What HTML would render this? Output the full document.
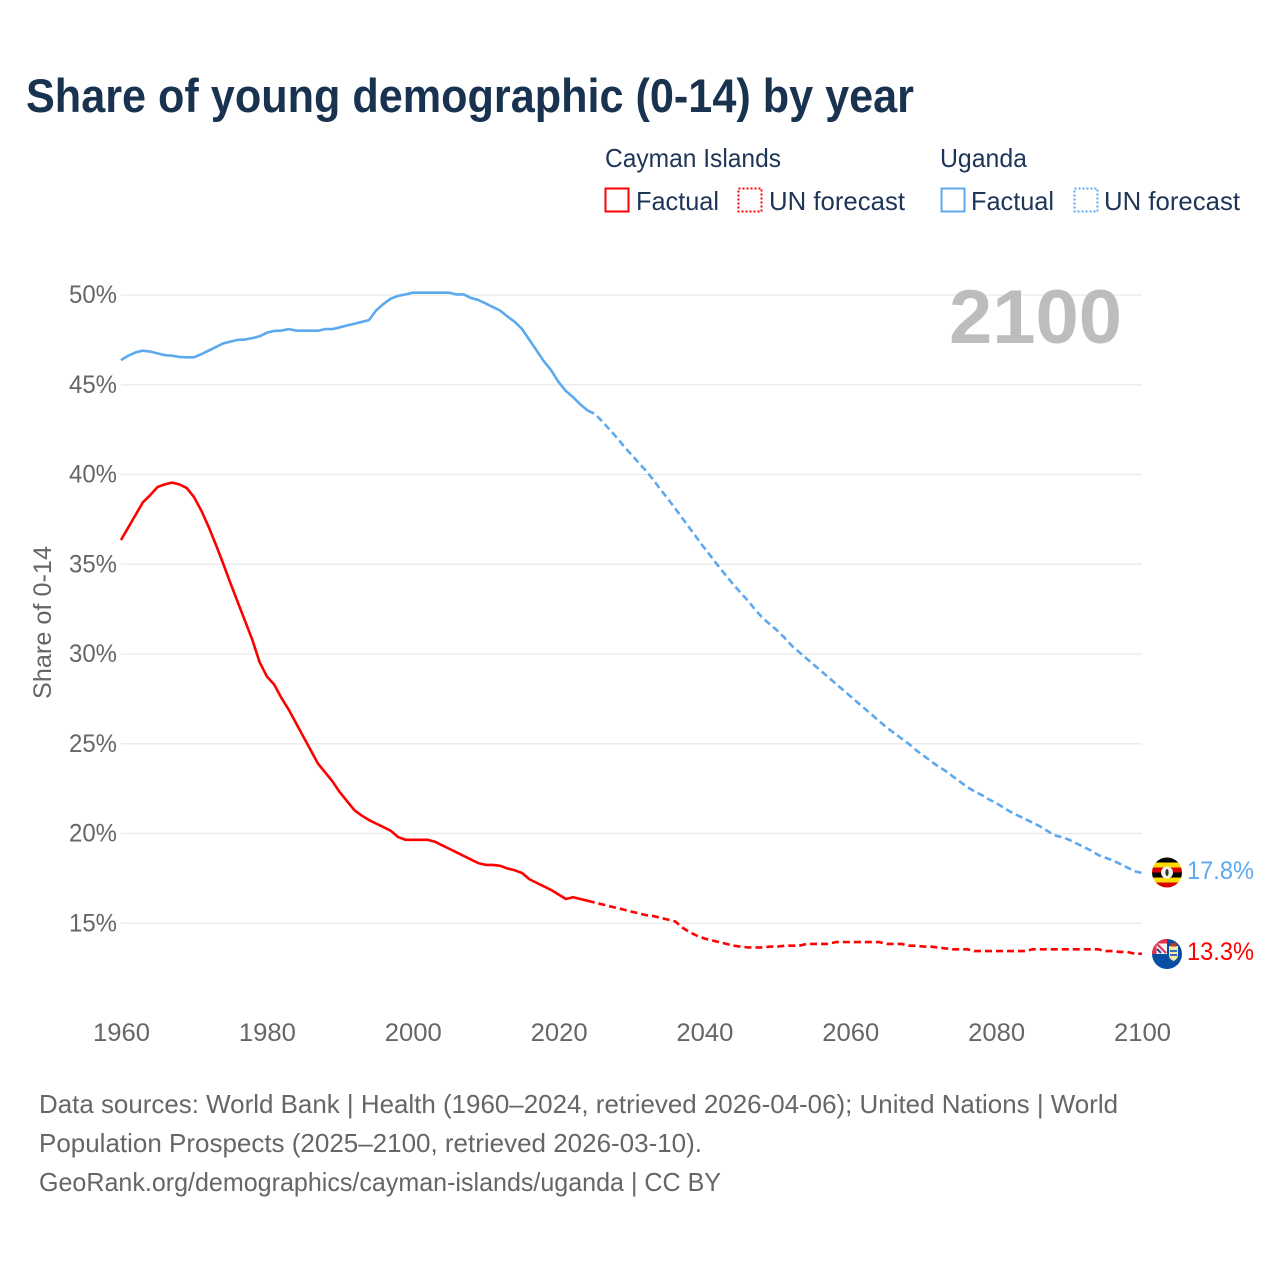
<!DOCTYPE html>
<html lang="en">
<head>
<meta charset="utf-8">
<title>Share of young demographic (0-14) by year</title>
<style>
  html, body { margin: 0; padding: 0; background: #fff; }
  svg { display: block; font-family: "Liberation Sans", sans-serif; }
</style>
</head>
<body>
<svg id="chart" width="1280" height="1280" viewBox="0 0 1280 1280" xmlns="http://www.w3.org/2000/svg">
  <rect x="0" y="0" width="1280" height="1280" fill="#ffffff"/>
  <text x="26" y="112" font-size="47" font-weight="700" fill="#18324f" textLength="888" lengthAdjust="spacingAndGlyphs">Share of young demographic (0-14) by year</text>

  <g font-size="26" fill="#1d3557">
    <text x="605" y="167" textLength="176" lengthAdjust="spacingAndGlyphs">Cayman Islands</text>
    <text x="940" y="167" textLength="87" lengthAdjust="spacingAndGlyphs">Uganda</text>
    <rect x="605.5" y="188.5" width="23" height="23" fill="none" stroke="#ff0000" stroke-width="2"/>
    <text x="636" y="210" textLength="83" lengthAdjust="spacingAndGlyphs">Factual</text>
    <rect x="738.5" y="188.5" width="23" height="23" fill="none" stroke="#ff0000" stroke-width="2" stroke-dasharray="2,2"/>
    <text x="769" y="210" textLength="136" lengthAdjust="spacingAndGlyphs">UN forecast</text>
    <rect x="941.5" y="188.5" width="23" height="23" fill="none" stroke="#5da9ef" stroke-width="2"/>
    <text x="971" y="210" textLength="83" lengthAdjust="spacingAndGlyphs">Factual</text>
    <rect x="1074.5" y="188.5" width="23" height="23" fill="none" stroke="#5da9ef" stroke-width="2" stroke-dasharray="2,2"/>
    <text x="1104" y="210" textLength="136" lengthAdjust="spacingAndGlyphs">UN forecast</text>
  </g>

  <g id="grid"></g>
  <g id="yticks"></g>
  <g id="xticks"></g>
  <text transform="translate(51,622.5) rotate(-90)" text-anchor="middle" font-size="25" fill="#666666" textLength="153" lengthAdjust="spacingAndGlyphs">Share of 0-14</text>
  <text x="949" y="343" font-size="76" font-weight="700" fill="#bdbdbd" textLength="173" lengthAdjust="spacingAndGlyphs">2100</text>
  <g id="series"></g>

  <defs>
    <clipPath id="clip-ug"><circle cx="1167" cy="872.5" r="15"/></clipPath>
    <clipPath id="clip-ky"><circle cx="1167" cy="954" r="15"/></clipPath>
  </defs>
  <g clip-path="url(#clip-ug)">
    <rect x="1152" y="857.5" width="30" height="5" fill="#000000"/>
    <rect x="1152" y="862.5" width="30" height="5" fill="#fcdc04"/>
    <rect x="1152" y="867.5" width="30" height="5" fill="#d90000"/>
    <rect x="1152" y="872.5" width="30" height="5" fill="#000000"/>
    <rect x="1152" y="877.5" width="30" height="5" fill="#fcdc04"/>
    <rect x="1152" y="882.5" width="30" height="5" fill="#d90000"/>
    <circle cx="1167" cy="872.5" r="6" fill="#f2f2f2"/>
    <ellipse cx="1167" cy="872.5" rx="1.6" ry="3.5" fill="#333333"/>
  </g>
  <g clip-path="url(#clip-ky)">
    <rect x="1152" y="939" width="30" height="30" fill="#0a4ea3"/>
    <rect x="1152" y="939" width="15" height="15" fill="#e8324a"/>
    <rect x="1156.5" y="943.5" width="10.5" height="10.5" fill="#f4f4f8"/>
    <path d="M1157 944 L1166 953" stroke="#e8324a" stroke-width="2.2" fill="none"/>
    <path d="M1157 949 L1161 953" stroke="#1f4a9c" stroke-width="2" fill="none"/>
    <path d="M1169 946 h9 v9 q0 4 -4.5 6 q-4.5 -2 -4.5 -6 z" fill="#f6e9a5"/>
    <rect x="1170.5" y="943" width="6" height="3.5" fill="#c0392b"/>
    <rect x="1170" y="950" width="7" height="2" fill="#2d6fc2"/>
    <rect x="1170" y="954" width="7" height="2" fill="#2d6fc2"/>
  </g>

  <g id="endlabels"></g>

  <g font-size="26" fill="#666666">
    <text x="39" y="1113" textLength="1079" lengthAdjust="spacingAndGlyphs">Data sources: World Bank | Health (1960–2024, retrieved 2026-04-06); United Nations | World</text>
    <text x="39" y="1152" textLength="663" lengthAdjust="spacingAndGlyphs">Population Prospects (2025–2100, retrieved 2026-03-10).</text>
    <text x="39" y="1191" textLength="682" lengthAdjust="spacingAndGlyphs">GeoRank.org/demographics/cayman-islands/uganda | CC BY</text>
  </g>
</svg>

<script>
const factualStartYear = 1960;
const forecastStartYear = 2024;
const xTickYears = [1960, 1980, 2000, 2020, 2040, 2060, 2080, 2100];
const yTickValues = [15, 20, 25, 30, 35, 40, 45, 50];

const ugandaFactual = [
  46.37, 46.62, 46.8, 46.9, 46.85, 46.75, 46.65, 46.62, 46.55, 46.53,
  46.53, 46.7, 46.9, 47.1, 47.3, 47.4, 47.5, 47.52, 47.6, 47.7,
  47.9, 48.0, 48.02, 48.1, 48.02, 48.01, 48.01, 48.01, 48.1, 48.1,
  48.2, 48.3, 48.4, 48.5, 48.6, 49.15, 49.5, 49.8, 49.95, 50.03,
  50.13, 50.13, 50.13, 50.13, 50.13, 50.13, 50.03, 50.03, 49.83, 49.72,
  49.53, 49.33, 49.13, 48.8, 48.5, 48.1, 47.5, 46.9, 46.3, 45.8,
  45.15, 44.65, 44.3, 43.9, 43.56
];
const ugandaForecast = [
  43.56, 43.37, 42.95, 42.5, 42.05, 41.55, 41.1, 40.65, 40.2, 39.7,
  39.15, 38.65, 38.1, 37.55, 37.0, 36.45, 35.9, 35.38, 34.85, 34.35,
  33.85, 33.4, 32.95, 32.45, 32.0, 31.65, 31.3, 30.9, 30.45, 30.1,
  29.75, 29.4, 29.05, 28.7, 28.35, 28.0, 27.65, 27.3, 26.95, 26.6,
  26.25, 25.9, 25.6, 25.3, 25.0, 24.65, 24.35, 24.05, 23.75, 23.5,
  23.2, 22.9, 22.6, 22.35, 22.15, 21.9, 21.7, 21.45, 21.2, 21.0,
  20.8, 20.6, 20.4, 20.15, 19.9, 19.8, 19.65, 19.45, 19.25, 19.05,
  18.8, 18.65, 18.5, 18.3, 18.1, 17.9, 17.8
];
const caymanFactual = [
  36.35, 37.05, 37.75, 38.45, 38.85, 39.3, 39.45, 39.55, 39.45, 39.25,
  38.75, 38.0, 37.1, 36.1, 35.05, 33.95, 32.9, 31.85, 30.8, 29.55,
  28.75, 28.3, 27.55, 26.9, 26.15, 25.4, 24.65, 23.9, 23.4, 22.9,
  22.3, 21.8, 21.3, 21.0, 20.75, 20.55, 20.35, 20.15, 19.8, 19.65,
  19.65, 19.65, 19.65, 19.55, 19.35, 19.15, 18.95, 18.75, 18.55, 18.35,
  18.25, 18.25, 18.2, 18.05, 17.95, 17.8, 17.45, 17.25, 17.05, 16.85,
  16.6, 16.35, 16.45, 16.35, 16.25
];
const caymanForecast = [
  16.25, 16.15, 16.05, 15.95, 15.85, 15.75, 15.65, 15.55, 15.45, 15.4,
  15.3, 15.2, 15.1, 14.75, 14.5, 14.3, 14.15, 14.05, 13.95, 13.85,
  13.75, 13.7, 13.65, 13.65, 13.65, 13.7, 13.7, 13.75, 13.75, 13.75,
  13.85, 13.85, 13.85, 13.85, 13.95, 13.95, 13.95, 13.95, 13.95, 13.95,
  13.95, 13.85, 13.85, 13.85, 13.75, 13.75, 13.7, 13.7, 13.65, 13.6,
  13.55, 13.55, 13.55, 13.45, 13.45, 13.45, 13.45, 13.45, 13.45, 13.45,
  13.45, 13.55, 13.55, 13.55, 13.55, 13.55, 13.55, 13.55, 13.55, 13.55,
  13.55, 13.45, 13.45, 13.4, 13.4, 13.3, 13.3
];

const NS = 'http://www.w3.org/2000/svg';
const xScale = function (year) { return 121 + (year - 1960) * 7.293; };
const yScale = function (value) { return 295 + (50 - value) * 17.95; };

function make(tag, parentId, attrs, text) {
  const el = document.createElementNS(NS, tag);
  Object.keys(attrs).forEach(function (k) { el.setAttribute(k, attrs[k]); });
  if (text !== undefined) el.textContent = text;
  document.getElementById(parentId).appendChild(el);
  return el;
}

yTickValues.forEach(function (v) {
  const line = make('line', 'grid', { x1: 121, x2: 1142, y1: yScale(v), y2: yScale(v), stroke: '#e9e9e9', 'stroke-width': 1.3 });
  
  
  const label = make('text', 'yticks', { x: 117, y: yScale(v) + 8, 'text-anchor': 'end', 'font-size': 25, fill: '#666666', textLength: 48, lengthAdjust: 'spacingAndGlyphs' }, v + '%');
  
  
});

xTickYears.forEach(function (year) {
  const label = make('text', 'xticks', { x: xScale(year) + 0.5, y: 1041, 'text-anchor': 'middle', 'font-size': 25, fill: '#666666', textLength: 57, lengthAdjust: 'spacingAndGlyphs' }, String(year));
  
  
});

function linePath(values, startYear) {
  return values.map(function (v, i) {
    return (i === 0 ? 'M' : 'L') + xScale(startYear + i).toFixed(2) + ' ' + yScale(v).toFixed(2);
  }).join(' ');
}

function drawSeries(values, startYear, color, dash) {
  const attrs = { d: linePath(values, startYear), fill: 'none', stroke: color, 'stroke-width': 2.6, 'stroke-linejoin': 'round' };
  if (dash) attrs['stroke-dasharray'] = dash;
  return make('path', 'series', attrs);
}

const ugandaFactualLine = drawSeries(ugandaFactual, factualStartYear, '#5da9ef');


const ugandaForecastLine = drawSeries(ugandaForecast, forecastStartYear, '#5da9ef', '7,4');


const caymanFactualLine = drawSeries(caymanFactual, factualStartYear, '#ff0000');


const caymanForecastLine = drawSeries(caymanForecast, forecastStartYear, '#ff0000', '7,4');



const ugandaEnd = make('text', 'endlabels', { x: 1187, y: 879, 'font-size': 25, fill: '#5da9ef', textLength: 67, lengthAdjust: 'spacingAndGlyphs' }, ugandaForecast[ugandaForecast.length - 1].toFixed(1) + '%');


const caymanEnd = make('text', 'endlabels', { x: 1187, y: 960, 'font-size': 25, fill: '#ff0000', textLength: 67, lengthAdjust: 'spacingAndGlyphs' }, caymanForecast[caymanForecast.length - 1].toFixed(1) + '%');


</script>
</body>
</html>
